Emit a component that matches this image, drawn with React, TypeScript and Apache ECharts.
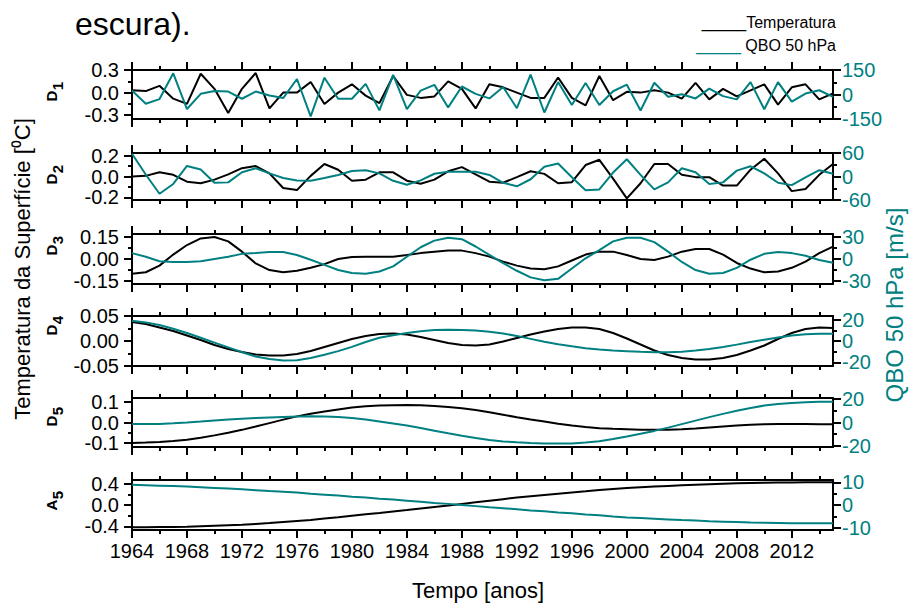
import React, { useEffect, useRef } from "react";
import * as echarts from "echarts";

const YEARS = [1964, 1965, 1966, 1967, 1968, 1969, 1970, 1971, 1972, 1973, 1974, 1975, 1976, 1977, 1978, 1979, 1980, 1981, 1982, 1983, 1984, 1985, 1986, 1987, 1988, 1989, 1990, 1991, 1992, 1993, 1994, 1995, 1996, 1997, 1998, 1999, 2000, 2001, 2002, 2003, 2004, 2005, 2006, 2007, 2008, 2009, 2010, 2011, 2012, 2013, 2014, 2015];
const X_MAJOR = [1964, 1968, 1972, 1976, 1980, 1984, 1988, 1992, 1996, 2000, 2004, 2008, 2012];
const X_MINOR = [1966, 1970, 1974, 1978, 1982, 1986, 1990, 1994, 1998, 2002, 2006, 2010, 2014];

const D1_TEMP = [0.03, 0.02, 0.09, -0.08, -0.15, 0.25, 0.05, -0.27, 0.05, 0.26, -0.21, 0.0, 0.0, 0.14, -0.15, 0.0, 0.11, -0.04, -0.14, 0.22, -0.03, -0.07, -0.05, 0.15, 0.05, -0.21, 0.11, 0.07, 0.0, -0.07, -0.07, 0.2, -0.07, -0.17, 0.22, -0.1, 0.01, 0.0, 0.03, 0.0, -0.08, 0.13, -0.09, 0.05, -0.05, 0.03, 0.11, -0.16, 0.07, 0.11, -0.09, -0.01];
const D1_QBO = [24, -57, -28, 130, -89, 4, 22, 18, -26, 18, -6, -22, 95, -134, 103, -26, -26, 65, -97, 120, -89, 24, 59, -79, 49, 4, -24, 46, -84, 122, -110, 76, -64, 70, -64, 20, 60, -98, 72, -14, 2, -24, 36, -10, -30, 76, -90, 76, -44, 6, 26, -14];
const D2_TEMP = [0, 0.006, 0.04, 0.016, -0.05, -0.065, -0.03, 0.02, 0.08, 0.1, 0.03, -0.11, -0.13, 0.006, 0.12, 0.065, -0.04, -0.03, 0.04, 0.04, -0.04, -0.07, -0.03, 0.05, 0.09, 0.02, -0.05, -0.06, -0.006, 0.05, 0.025, -0.065, -0.055, 0.11, 0.16, -0.02, -0.21, -0.065, 0.12, 0.12, 0.016, -0.006, -0.006, -0.087, -0.087, 0.065, 0.17, 0.03, -0.14, -0.12, 0.016, 0.12];
const D2_QBO = [58, 5, -44, -19, 27, 18, -16, -15, 11, 21, 8, -4, -10, -11, -4, 4, 14, 16, 8, -11, -21, -10, 7, 12, 12, 12, 4, -16, -25, -7, 25, 33, -2, -35, -33, 10, 44, 4, -33, -15, 21, 11, -19, -15, 15, 26, 8, -16, -22, -2, 16, 7];
const D3_TEMP = [-0.1, -0.09, -0.045, 0.03, 0.095, 0.14, 0.15, 0.12, 0.05, -0.03, -0.075, -0.09, -0.08, -0.06, -0.035, 0.0, 0.014, 0.016, 0.016, 0.016, 0.027, 0.04, 0.05, 0.057, 0.057, 0.04, 0.016, -0.018, -0.045, -0.065, -0.07, -0.05, -0.01, 0.03, 0.05, 0.05, 0.027, 0.0, -0.007, 0.016, 0.05, 0.068, 0.068, 0.03, -0.027, -0.065, -0.09, -0.085, -0.06, -0.018, 0.04, 0.084];
const D3_QBO = [8, 3, -3, -4, -4, -3, 0, 3, 7, 8, 9.5, 9.5, 5.5, -1, -8, -15, -19, -20, -17, -10, 3, 16, 25, 29, 27, 17, 5.5, -5.5, -16, -25, -29, -27, -13, 1, 12, 24, 29, 29, 23, 10, -4, -15, -20, -19, -12, -1, 7, 9.5, 8, 4.5, -1.4, -5];
const D4_TEMP = [0.038, 0.034, 0.027, 0.02, 0.011, 0.002, -0.008, -0.016, -0.022, -0.027, -0.029, -0.029, -0.026, -0.02, -0.012, -0.004, 0.004, 0.01, 0.014, 0.015, 0.013, 0.008, 0.002, -0.004, -0.008, -0.009, -0.007, -0.001, 0.006, 0.013, 0.019, 0.024, 0.027, 0.027, 0.024, 0.016, 0.005, -0.007, -0.019, -0.028, -0.034, -0.037, -0.037, -0.034, -0.028, -0.019, -0.009, 0.004, 0.016, 0.024, 0.027, 0.026];
const D4_QBO = [19, 17.5, 15, 11.5, 7.5, 3, -1.5, -6, -10.5, -14.5, -17, -18.4, -18, -16, -13, -9.5, -5.5, -1, 3, 5.5, 7.5, 9.2, 10.3, 10.6, 10.4, 9.8, 8.6, 7, 4.8, 2, -0.8, -3, -5, -6.8, -8, -9, -9.6, -10.2, -10.6, -10.5, -10, -9, -7.6, -5.6, -3.4, -1, 1.2, 3.3, 5.2, 6.3, 6.8, 6.9];
const D5_TEMP = [-0.1, -0.098, -0.095, -0.091, -0.085, -0.075, -0.063, -0.05, -0.036, -0.02, -0.003, 0.014, 0.03, 0.043, 0.054, 0.064, 0.073, 0.079, 0.083, 0.085, 0.086, 0.084, 0.081, 0.076, 0.07, 0.061, 0.05, 0.038, 0.026, 0.015, 0.005, -0.006, -0.015, -0.022, -0.028, -0.031, -0.033, -0.035, -0.036, -0.035, -0.033, -0.029, -0.024, -0.019, -0.015, -0.011, -0.008, -0.007, -0.007, -0.007, -0.008, -0.008];
const D5_QBO = [-1.2, -1.3, -1.2, -0.7, 0, 0.8, 1.7, 2.5, 3.2, 3.8, 4.3, 4.8, 5.2, 5.3, 5.2, 4.7, 3.8, 2.5, 0.9, -0.8, -2.6, -4.8, -7, -9.2, -11.3, -13.3, -15, -16.2, -17, -17.6, -18, -18.1, -18, -17.2, -16, -14.2, -12, -9.7, -7.2, -4.4, -1.4, 1.6, 4.6, 7.4, 10, 12.4, 14.5, 15.9, 16.8, 17.4, 17.7, 17.8];
const A5_TEMP = [-0.42, -0.418, -0.415, -0.413, -0.41, -0.4, -0.39, -0.38, -0.37, -0.355, -0.34, -0.32, -0.3, -0.28, -0.255, -0.23, -0.2, -0.175, -0.15, -0.12, -0.095, -0.065, -0.037, -0.01, 0.02, 0.05, 0.08, 0.11, 0.14, 0.165, 0.19, 0.213, 0.235, 0.257, 0.28, 0.3, 0.32, 0.333, 0.346, 0.358, 0.37, 0.38, 0.39, 0.4, 0.41, 0.415, 0.42, 0.423, 0.425, 0.426, 0.426, 0.426];
const A5_QBO = [9, 8.8, 8.6, 8.4, 8.2, 7.9, 7.6, 7.3, 7.0, 6.6, 6.2, 5.9, 5.5, 5.0, 4.6, 4.2, 3.7, 3.3, 2.8, 2.4, 1.9, 1.4, 0.9, 0.5, 0, -0.5, -1.0, -1.4, -1.9, -2.4, -2.8, -3.3, -3.7, -4.2, -4.6, -5.1, -5.5, -5.8, -6.1, -6.4, -6.7, -6.9, -7.2, -7.4, -7.6, -7.8, -7.9, -8.0, -8.1, -8.1, -8.1, -8.1];

const PANEL_LETTERS = ["D", "D", "D", "D", "D", "A"];
const PANEL_SUBS = ["1", "2", "3", "4", "5", "5"];
const TEMP_SERIES = [D1_TEMP, D2_TEMP, D3_TEMP, D4_TEMP, D5_TEMP, A5_TEMP];
const QBO_SERIES = [D1_QBO, D2_QBO, D3_QBO, D4_QBO, D5_QBO, A5_QBO];

const LEFT_MAJOR = [[-0.3, 0, 0.3], [-0.2, 0, 0.2], [-0.15, 0, 0.15], [-0.05, 0, 0.05], [-0.1, 0, 0.1], [-0.4, 0, 0.4]];
const LEFT_MINOR = [[-0.15, 0.15], [-0.1, 0.1], [-0.075, 0.075], [-0.025, 0.025], [-0.05, 0.05], [-0.2, 0.2]];
const LEFT_DECIMALS = [1, 1, 2, 2, 1, 1];
const LEFT_RANGE = [[-0.35, 0.3], [-0.225, 0.225], [-0.17, 0.17], [-0.05, 0.05], [-0.12, 0.12], [-0.47, 0.47]];
const RIGHT_MAJOR = [[-150, 0, 150], [-60, 0, 60], [-30, 0, 30], [-20, 0, 20], [-20, 0, 20], [-10, 0, 10]];
const RIGHT_MINOR = [[-75, 75], [-30, 30], [-15, 15], [-10, 10], [-10, 10], [-5, 5]];
const RIGHT_RANGE = [[-150, 150], [-60, 60], [-34, 34], [-23.5, 23.5], [-21, 21], [-11.1, 11.1]];

const GRID_TOPS = [70, 153, 234, 316, 398, 480];
const GRID_HEIGHTS = [49, 47, 50, 50, 49, 50];
const LABEL_Y = [96, 179, 250, 330, 421, 505];

const TEAL = "#008080";
const FONT = "'Liberation Sans', Arial, sans-serif";
const PLOT_LEFT = 132;
const PLOT_RIGHT = 833;

export default function App() {
  const ref = useRef<HTMLDivElement>(null);
  useEffect(() => {
    document.body.style.margin = "0";
    const chart = echarts.init(ref.current as HTMLDivElement, null, { renderer: "svg" });
    const grids: any[] = [];
    const xAxes: any[] = [];
    const yAxes: any[] = [];
    const series: any[] = [];
    const graphics: any[] = [];
    const tickStyle = { color: "#000", width: 2 };
    const lineAx = { show: true, onZero: false, lineStyle: { color: "#000", width: 2 } };
    const noLine = { show: false, onZero: false };

    TEMP_SERIES.forEach((temp, i) => {
      const last = i === TEMP_SERIES.length - 1;
      grids.push({
        left: PLOT_LEFT,
        width: PLOT_RIGHT - PLOT_LEFT,
        top: GRID_TOPS[i],
        height: GRID_HEIGHTS[i],
        show: false,
        containLabel: false,
        outerBoundsMode: "none",
      });
      const xBase = { type: "value", gridIndex: i, min: 1964, max: 2015, splitLine: { show: false } };
      // bottom major
      xAxes.push({
        ...xBase,
        position: "bottom",
        axisLine: lineAx,
        axisTick: { show: true, customValues: X_MAJOR, length: 8, lineStyle: tickStyle },
        axisLabel: {
          show: last,
          customValues: X_MAJOR,
          margin: 11,
          color: "#000",
          fontSize: 20,
          fontFamily: FONT,
          formatter: (v: number) => String(v),
        },
      });
      xAxes.push({
        ...xBase,
        position: "bottom",
        axisLine: noLine,
        axisTick: { show: true, customValues: X_MINOR, length: 4, lineStyle: tickStyle },
        axisLabel: { show: false },
      });
      xAxes.push({
        ...xBase,
        position: "top",
        axisLine: lineAx,
        axisTick: { show: true, customValues: X_MAJOR, length: 8, lineStyle: tickStyle },
        axisLabel: { show: false },
      });
      xAxes.push({
        ...xBase,
        position: "top",
        axisLine: noLine,
        axisTick: { show: true, customValues: X_MINOR, length: 4, lineStyle: tickStyle },
        axisLabel: { show: false },
      });

      const dec = LEFT_DECIMALS[i];
      yAxes.push({
        type: "value",
        gridIndex: i,
        position: "left",
        min: LEFT_RANGE[i][0],
        max: LEFT_RANGE[i][1],
        splitLine: { show: false },
        axisLine: lineAx,
        axisTick: { show: true, customValues: LEFT_MAJOR[i], length: 8, lineStyle: tickStyle },
        axisLabel: {
          customValues: LEFT_MAJOR[i],
          margin: 13,
          color: "#000",
          fontSize: 20,
          fontFamily: FONT,
          formatter: (v: number) => v.toFixed(dec),
        },
      });
      yAxes.push({
        type: "value",
        gridIndex: i,
        position: "left",
        min: LEFT_RANGE[i][0],
        max: LEFT_RANGE[i][1],
        splitLine: { show: false },
        axisLine: noLine,
        axisTick: { show: true, customValues: LEFT_MINOR[i], length: 4, lineStyle: tickStyle },
        axisLabel: { show: false },
      });
      yAxes.push({
        type: "value",
        gridIndex: i,
        position: "right",
        min: RIGHT_RANGE[i][0],
        max: RIGHT_RANGE[i][1],
        splitLine: { show: false },
        axisLine: lineAx,
        axisTick: { show: true, customValues: RIGHT_MAJOR[i], length: 8, lineStyle: tickStyle },
        axisLabel: {
          customValues: RIGHT_MAJOR[i],
          margin: 9,
          color: TEAL,
          fontSize: 20,
          fontFamily: FONT,
          formatter: (v: number) => String(v),
        },
      });
      yAxes.push({
        type: "value",
        gridIndex: i,
        position: "right",
        min: RIGHT_RANGE[i][0],
        max: RIGHT_RANGE[i][1],
        splitLine: { show: false },
        axisLine: noLine,
        axisTick: { show: true, customValues: RIGHT_MINOR[i], length: 4, lineStyle: tickStyle },
        axisLabel: { show: false },
      });

      series.push({
        type: "line",
        name: "Temperatura",
        xAxisIndex: i * 4,
        yAxisIndex: i * 4,
        data: YEARS.map((y, j) => [y, temp[j]]),
        showSymbol: false,
        symbol: "none",
        lineStyle: { color: "#000", width: 2 },
        itemStyle: { color: "#000" },
      });
      series.push({
        type: "line",
        name: "QBO 50 hPa",
        xAxisIndex: i * 4,
        yAxisIndex: i * 4 + 2,
        data: YEARS.map((y, j) => [y, QBO_SERIES[i][j]]),
        showSymbol: false,
        symbol: "none",
        lineStyle: { color: TEAL, width: 2 },
        itemStyle: { color: TEAL },
      });

      graphics.push({
        type: "text",
        x: 51,
        y: LABEL_Y[i],
        rotation: Math.PI / 2,
        style: {
          text: PANEL_LETTERS[i],
          font: `bold 15px ${FONT}`,
          fill: "#000",
          align: "center",
          verticalAlign: "middle",
          textAlign: "center",
          textVerticalAlign: "middle",
        },
      });
      graphics.push({
        type: "text",
        x: 57,
        y: LABEL_Y[i] - 10,
        rotation: Math.PI / 2,
        style: {
          text: PANEL_SUBS[i],
          font: `bold 15px ${FONT}`,
          fill: "#000",
          align: "center",
          verticalAlign: "middle",
          textAlign: "center",
          textVerticalAlign: "middle",
        },
      });
    });

    graphics.push(
      {
        type: "text",
        left: 75,
        top: 8,
        style: { text: "escura).", font: `32px ${FONT}`, fill: "#000" },
      },
      {
        type: "text",
        x: 836,
        y: 22,
        style: {
          text: "{k|_____}Temperatura",
          font: `16px ${FONT}`,
          fill: "#000",
          align: "right",
          verticalAlign: "middle",
          textAlign: "right",
          textVerticalAlign: "middle",
          rich: { k: { fill: "#000", color: "#000", fontSize: 16, fontFamily: FONT } },
        },
      },
      {
        type: "text",
        x: 836,
        y: 45,
        style: {
          text: "{t|_____} QBO 50 hPa",
          font: `16px ${FONT}`,
          fill: "#000",
          align: "right",
          verticalAlign: "middle",
          textAlign: "right",
          textVerticalAlign: "middle",
          rich: { t: { fill: TEAL, color: TEAL, fontSize: 16, fontFamily: FONT } },
        },
      },
      {
        type: "text",
        x: 22,
        y: 269,
        rotation: Math.PI / 2,
        style: {
          text: "Temperatura da Superfície [⁰C]",
          font: `22px ${FONT}`,
          fill: "#000",
          align: "center",
          verticalAlign: "middle",
          textAlign: "center",
          textVerticalAlign: "middle",
        },
      },
      {
        type: "text",
        x: 894,
        y: 305,
        rotation: Math.PI / 2,
        style: {
          text: "QBO 50 hPa [m/s]",
          font: `24px ${FONT}`,
          fill: TEAL,
          align: "center",
          verticalAlign: "middle",
          textAlign: "center",
          textVerticalAlign: "middle",
        },
      },
      {
        type: "text",
        x: 478,
        y: 590,
        style: {
          text: "Tempo [anos]",
          font: `22px ${FONT}`,
          fill: "#000",
          align: "center",
          verticalAlign: "middle",
          textAlign: "center",
          textVerticalAlign: "middle",
        },
      }
    );

    chart.setOption({
      animation: false,
      backgroundColor: "#fff",
      grid: grids,
      xAxis: xAxes,
      yAxis: yAxes,
      series,
      graphic: graphics,
    });
    return () => chart.dispose();
  }, []);
  return <div ref={ref} style={{ width: 913, height: 603 }} />;
}
